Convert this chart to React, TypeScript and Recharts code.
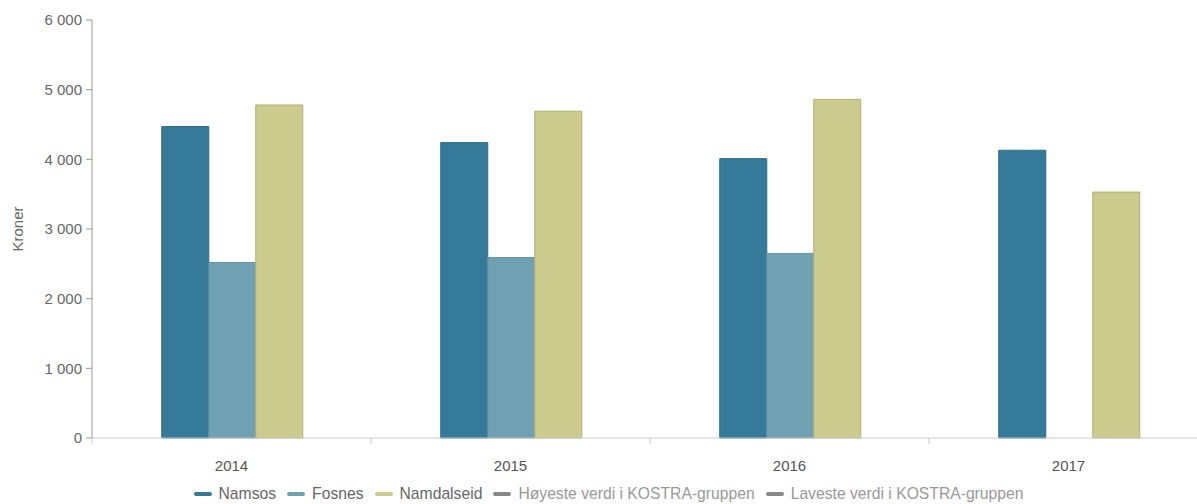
import React from 'react';
import { Bar, BarChart, Legend, XAxis, YAxis } from 'recharts';

const years = ['2014', '2015', '2016', '2017'];
const namsos = [4470, 4240, 4010, 4130];
const fosnes: (number | null)[] = [2520, 2590, 2650, null];
const namdalseid = [4780, 4690, 4860, 3530];
const yTicks = [0, 1000, 2000, 3000, 4000, 5000, 6000];

const legendItems = [
  { name: 'Namsos', color: '#357a99', text: '#666' },
  { name: 'Fosnes', color: '#70a1b3', text: '#666' },
  { name: 'Namdalseid', color: '#cbcb8d', text: '#666' },
  { name: 'Høyeste verdi i KOSTRA-gruppen', color: '#888', text: '#999' },
  { name: 'Laveste verdi i KOSTRA-gruppen', color: '#888', text: '#999' },
];

const data = years.map((year, i) => ({
  year,
  Namsos: namsos[i],
  Fosnes: fosnes[i],
  Namdalseid: namdalseid[i],
}));

const CHART_W = 1216;
const CHART_H = 504;
const MARGIN = { top: 20, right: 8, left: 0, bottom: 0 };
const Y_AXIS_W = 92;
const PLOT_W = CHART_W - MARGIN.left - MARGIN.right - Y_AXIS_W;
const BAND = PLOT_W / years.length;
const FONT = '"Liberation Sans", Arial, sans-serif';

const fmt = (v: number) => v.toString().replace(/\B(?=(\d{3})+(?!\d))/g, ' ');

// category labels plus the small ticks between the categories
const YearTick = (props: any) => {
  const { x, y, payload, index } = props;
  const half = BAND / 2;
  return (
    <g>
      <line x1={x - half} x2={x - half} y1={y} y2={y + 6} stroke="#ccc" />
      {index === years.length - 1 && (
        <line x1={x + half} x2={x + half} y1={y} y2={y + 6} stroke="#ccc" />
      )}
      <text
        x={x}
        y={y + 27}
        textAnchor="middle"
        dominantBaseline="central"
        fill="#555"
        fontSize={15}
        fontFamily={FONT}
      >
        {payload.value}
      </text>
    </g>
  );
};

const CustomLegend = () => (
  <div
    style={{
      height: 30,
      paddingTop: 10,
      paddingLeft: 20,
      boxSizing: 'border-box',
      display: 'flex',
      justifyContent: 'center',
      alignItems: 'center',
      fontFamily: FONT,
      fontSize: 15.7,
    }}
  >
    {legendItems.map((item) => (
      <div key={item.name} style={{ display: 'flex', alignItems: 'center', marginRight: 11 }}>
        <span
          style={{
            display: 'inline-block',
            width: 18,
            height: 4,
            borderRadius: 2,
            background: item.color,
            marginRight: 7,
          }}
        />
        <span style={{ color: item.text }}>{item.name}</span>
      </div>
    ))}
  </div>
);

export default function App() {
  return (
    <div
      style={{
        position: 'absolute',
        left: 0,
        top: 0,
        width: 1197,
        height: 504,
        overflow: 'hidden',
        background: '#fff',
      }}
    >
      <BarChart
        width={CHART_W}
        height={CHART_H}
        data={data}
        margin={MARGIN}
        barCategoryGap="25%"
        barGap={0}
      >
        <XAxis
          dataKey="year"
          height={36}
          stroke="#ccc"
          tickLine={false}
          tickSize={0}
          tickMargin={0}
          tick={<YearTick />}
          interval={0}
        />
        <YAxis
          width={Y_AXIS_W}
          domain={[0, 6000]}
          ticks={yTicks}
          tickFormatter={fmt}
          stroke="#999"
          tickSize={6}
          tickMargin={4}
          tick={{ fill: '#666', fontSize: 15, fontFamily: FONT }}
          label={{
            value: 'Kroner',
            angle: -90,
            position: 'insideLeft',
            offset: 18,
            style: { textAnchor: 'middle', fill: '#666', fontSize: 15, fontFamily: FONT },
          }}
        />
        <Legend verticalAlign="bottom" content={<CustomLegend />} />
        <Bar dataKey="Namsos" fill="#357a99" stroke="#2c6a87" isAnimationActive={false} />
        <Bar dataKey="Fosnes" fill="#70a1b3" stroke="#6592a3" isAnimationActive={false} />
        <Bar dataKey="Namdalseid" fill="#cbcb8d" stroke="#b0b074" isAnimationActive={false} />
      </BarChart>
    </div>
  );
}
